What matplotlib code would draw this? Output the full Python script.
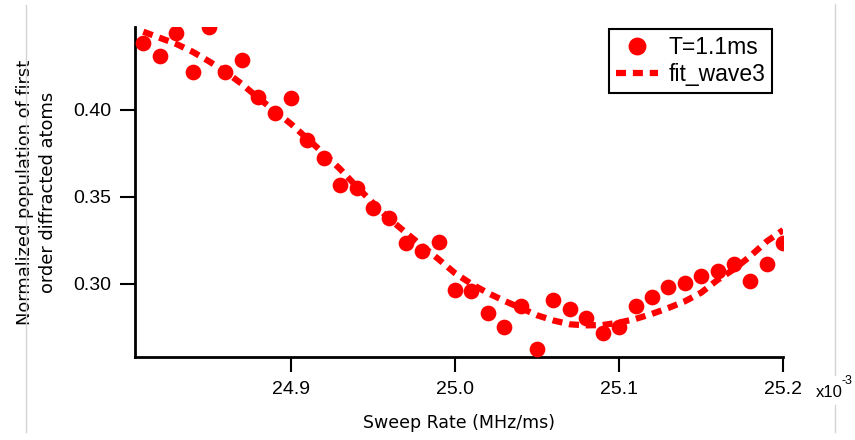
import matplotlib.pyplot as plt
from matplotlib.lines import Line2D

# Sweep rate (x10^-3 MHz/ms) and measured population, T = 1.1 ms
sweep_rate = [24.81, 24.82, 24.83, 24.84, 24.85, 24.86, 24.87, 24.88, 24.89, 24.90,
              24.91, 24.92, 24.93, 24.94, 24.95, 24.96, 24.97, 24.98, 24.99, 25.00,
              25.01, 25.02, 25.03, 25.04, 25.05, 25.06, 25.07, 25.08, 25.09, 25.10,
              25.11, 25.12, 25.13, 25.14, 25.15, 25.16, 25.17, 25.18, 25.19, 25.20]
population = [0.4385, 0.4310, 0.4443, 0.4218, 0.4477, 0.4218, 0.4287, 0.4075, 0.3983, 0.4069,
              0.3828, 0.3724, 0.3569, 0.3552, 0.3437, 0.3379, 0.3236, 0.3190, 0.3241, 0.2966,
              0.2960, 0.2833, 0.2753, 0.2874, 0.2626, 0.2908, 0.2856, 0.2805, 0.2718, 0.2753,
              0.2874, 0.2925, 0.2983, 0.3006, 0.3046, 0.3075, 0.3115, 0.3017, 0.3115, 0.3236]

# fit_wave3
fit_pop = [0.4450, 0.4415, 0.4380, 0.4335, 0.4280, 0.4220, 0.4150, 0.4070, 0.3995, 0.3920,
           0.3835, 0.3750, 0.3660, 0.3560, 0.3465, 0.3374, 0.3295, 0.3218, 0.3142, 0.3062,
           0.3000, 0.2948, 0.2903, 0.2862, 0.2820, 0.2790, 0.2768, 0.2762, 0.2764, 0.2778,
           0.2799, 0.2828, 0.2862, 0.2900, 0.2950, 0.3023, 0.3085, 0.3160, 0.3245, 0.3310]

x_ticks = [24.9, 25.0, 25.1, 25.2]
y_ticks = [0.30, 0.35, 0.40]

red = '#ff0000'
tick_font = 'Liberation Sans'

fig = plt.figure(figsize=(8.55, 4.4), dpi=100)
ax = fig.add_axes([0.158, 0.1886, 0.758, 0.75])

ax.plot(sweep_rate, population, 'o', color=red, markersize=10.3, label='T=1.1ms', zorder=3)
ax.plot(sweep_rate, fit_pop, color=red, linewidth=4.5, dashes=(1.6, 1.1),
        label='fit_wave3', zorder=2)

ax.set_xlim(24.805, 25.2)
ax.set_ylim(0.258, 0.4477)
ax.set_xticks(x_ticks)
ax.set_xticklabels([f'{v:.1f}' for v in x_ticks])
ax.set_yticks(y_ticks)
ax.set_yticklabels([f'{v:.2f}' for v in y_ticks])
ax.tick_params(direction='out', length=11, width=1.5, colors='black', pad=6, labelsize=14)
for lab in ax.get_xticklabels() + ax.get_yticklabels():
    lab.set_fontfamily(tick_font)

for side in ['top', 'right']:
    ax.spines[side].set_visible(False)
for side in ['left', 'bottom']:
    ax.spines[side].set_linewidth(2)

ax.set_xlabel('Sweep Rate (MHz/ms)', fontsize=12.5, labelpad=12)
ax.set_ylabel('Normalized population of first\norder diffracted atoms', fontsize=12.9,
              labelpad=12, linespacing=1.3)

leg = ax.legend(loc='upper right', bbox_to_anchor=(772 / 855, 1 - 29 / 440),
                bbox_transform=fig.transFigure, fancybox=False, framealpha=1,
                edgecolor='black', prop={'family': tick_font, 'size': 16.5},
                handlelength=1.85, handletextpad=0.45, borderpad=0.3, labelspacing=0.2,
                borderaxespad=0, markerscale=1.15)
leg.get_frame().set_linewidth(1.5)

# exponent label beside the x axis
fig.text(816 / 855, 1 - 392 / 440, 'x10', fontfamily=tick_font, fontsize=12, va='center')
fig.text(841 / 855, 1 - 381 / 440, '-3', fontfamily=tick_font, fontsize=9, va='center')

# thin page borders from the screenshot
fig.add_artist(Line2D([26 / 855, 26 / 855], [1 - 5 / 440, 1 - 432 / 440], color='#d4d4d4', lw=1))
fig.add_artist(Line2D([835 / 855, 835 / 855], [1 - 4 / 440, 1 - 375 / 440], color='#d4d4d4', lw=1))
fig.add_artist(Line2D([835 / 855, 835 / 855], [1 - 405 / 440, 1 - 432 / 440], color='#d4d4d4', lw=1))

fig.savefig('out.png', dpi=100)
